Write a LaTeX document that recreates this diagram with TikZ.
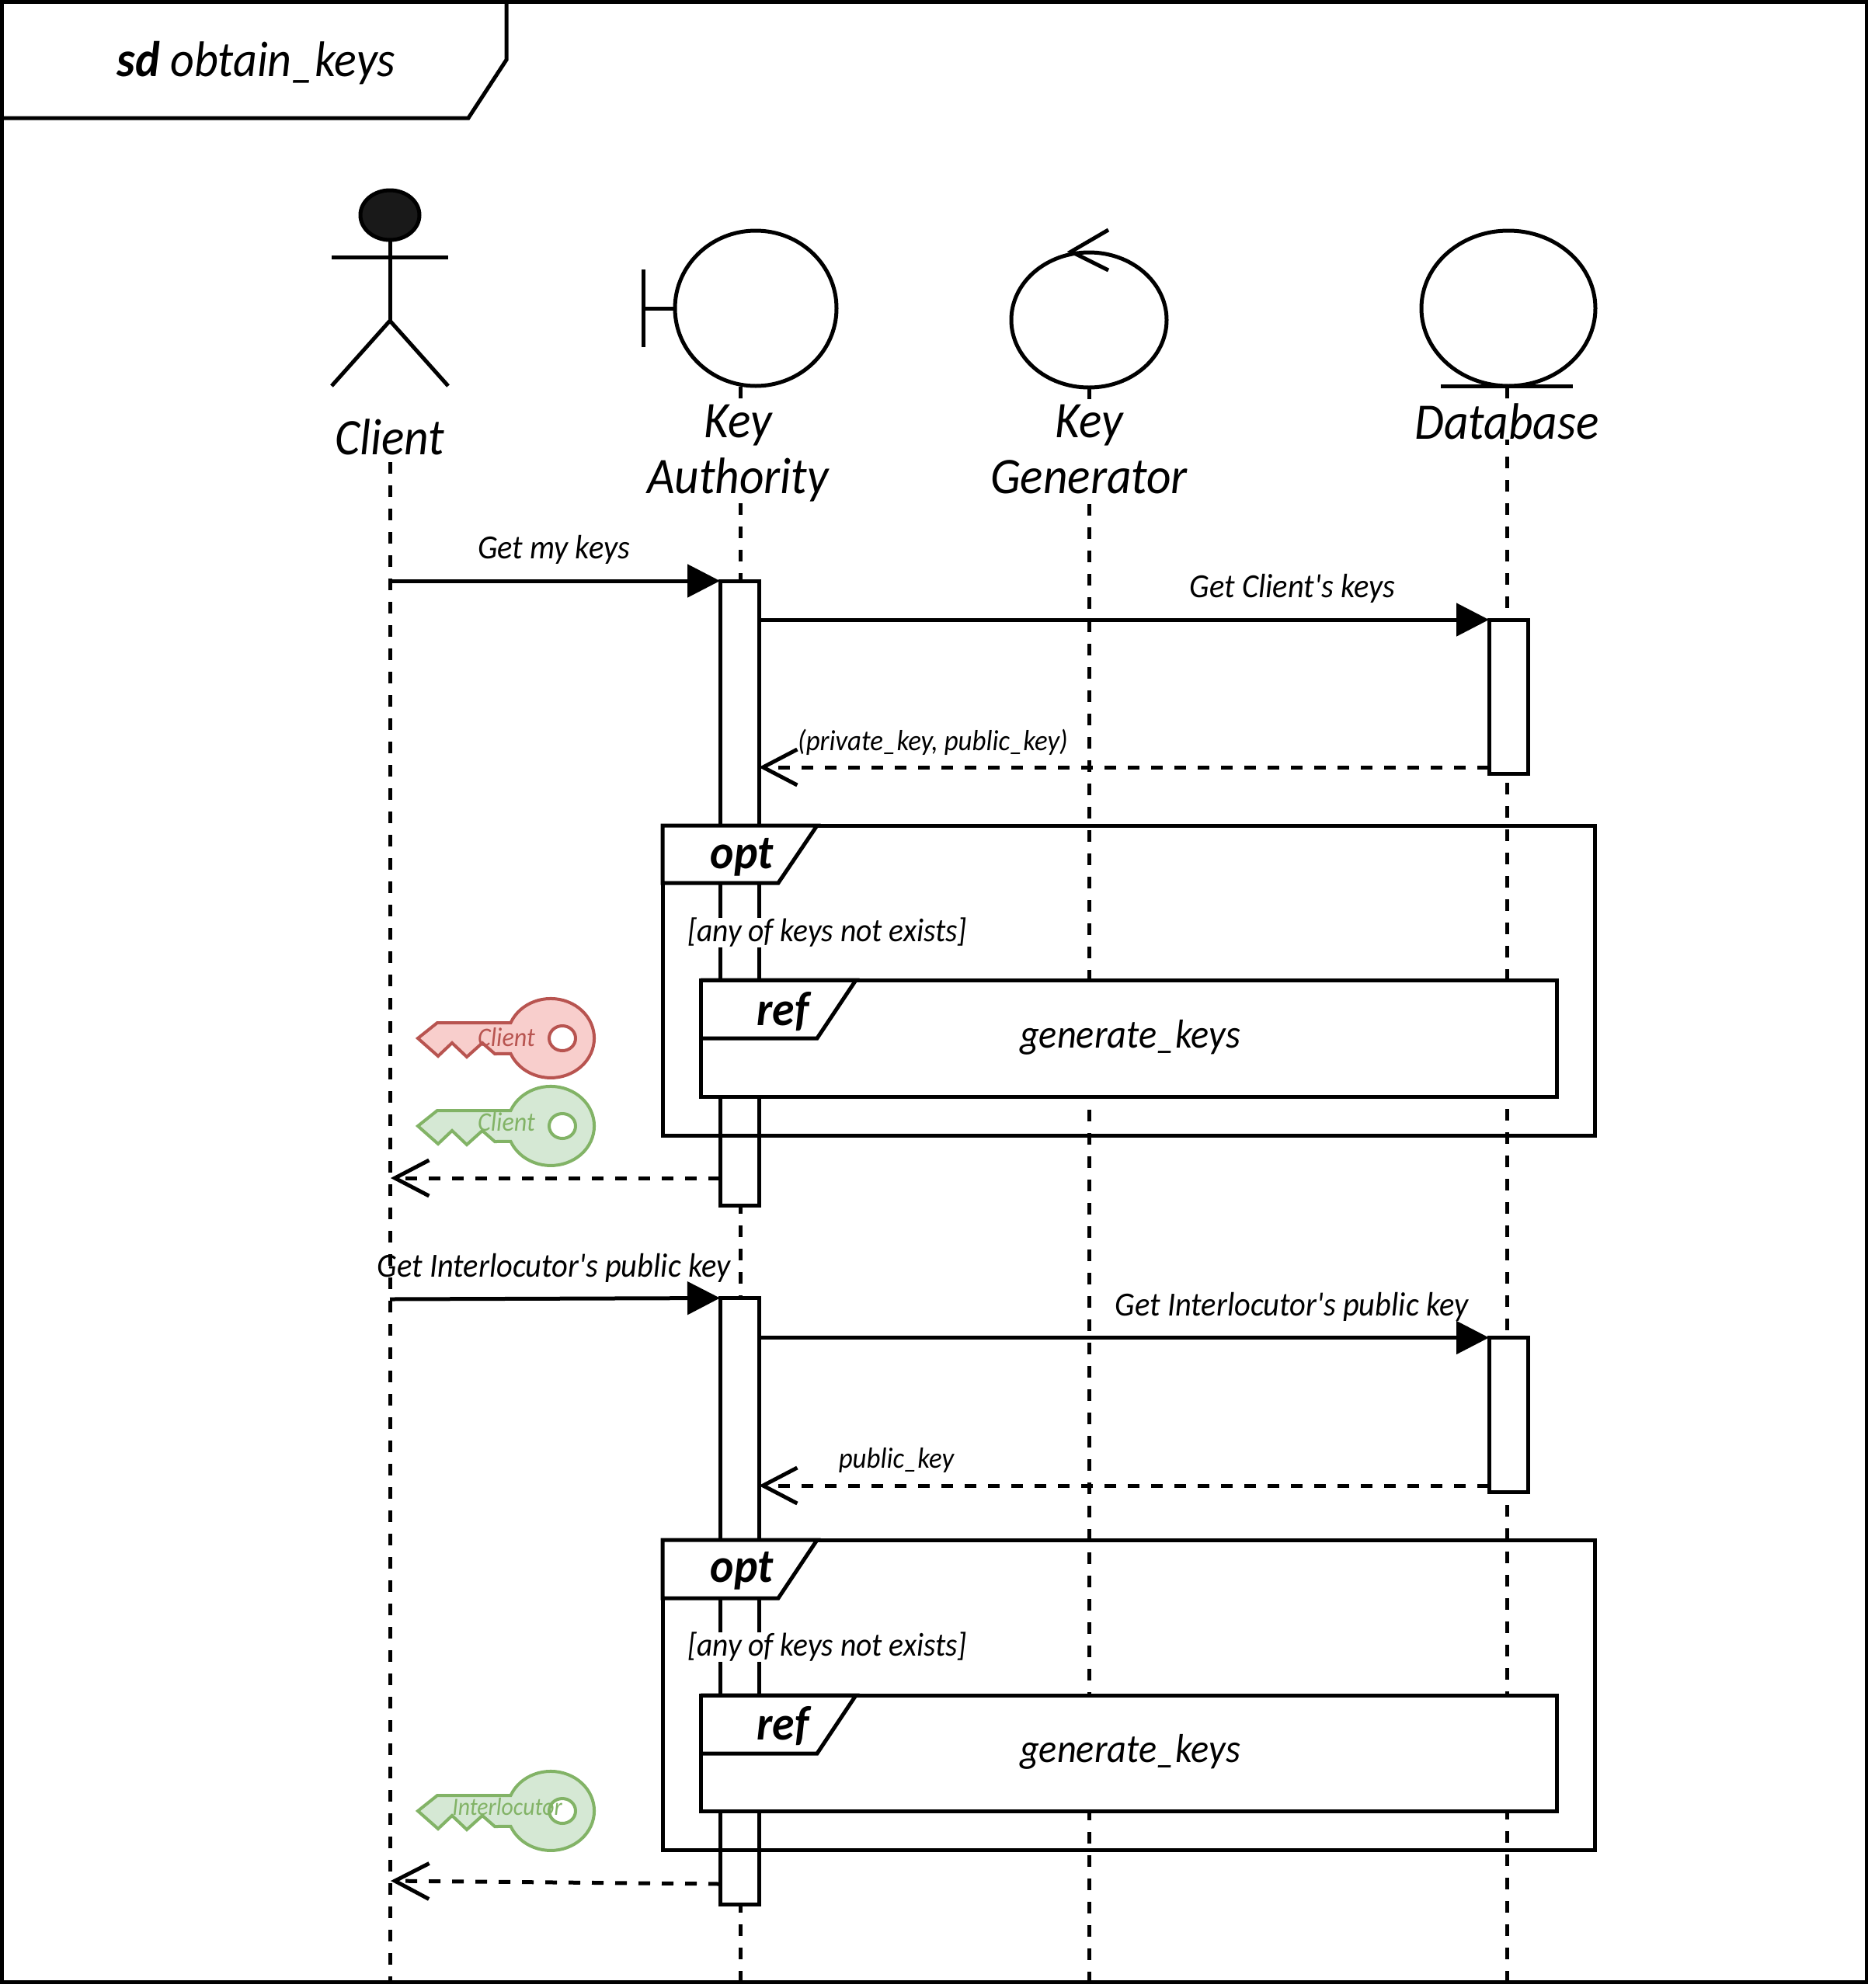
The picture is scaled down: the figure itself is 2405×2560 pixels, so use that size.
\documentclass[tikz,border=0pt]{standalone}
\usepackage{fontspec}
\setmainfont{Carlito}[FakeStretch=0.93,Ligatures=TeXOff]
\usetikzlibrary{arrows.meta,shapes.geometric}
\definecolor{keyred}{HTML}{B85450}
\definecolor{keyredfill}{HTML}{F8CECC}
\definecolor{keygreen}{HTML}{82B366}
\definecolor{keygreenfill}{HTML}{D5E8D4}
\tikzset{
  lifeline/.style={dash pattern=on 15pt off 15pt},
  lifename/.style={fill=white,inner sep=0pt,align=center,font=\fontsize{66}{72}\selectfont\itshape},
  msgtext/.style={inner sep=0pt,font=\fontsize{43.5}{50}\selectfont\itshape},
  replytext/.style={inner sep=0pt,font=\fontsize{37.5}{44}\selectfont\itshape},
  fragtag/.style={inner sep=0pt,font=\fontsize{62}{68}\selectfont\bfseries\itshape},
  condtext/.style={fill=white,inner sep=0pt,font=\fontsize{42.5}{50}\selectfont\itshape},
  reftext/.style={inner sep=0pt,font=\fontsize{52}{60}\selectfont\itshape},
  keytext/.style={inner sep=0pt,font=\fontsize{34.5}{40}\selectfont\itshape},
  activation/.style={draw,fill=white,inner sep=0pt,outer sep=0pt,minimum width=50pt},
  roundicon/.style={draw,ellipse,inner sep=0pt,outer sep=0pt},
  syncmsg/.style={-{Triangle[length=42pt,width=42pt]}},
  replymsg/.style={dash pattern=on 15pt off 15pt,-{Straight Barb[length=44pt,width=46pt]}},
  keyicon/.pic={
    \path[pic actions] (-171,0) -- (-146,-20) -- (-51.5,-20)
      arc[start angle=-157,delta angle=314,x radius=56,y radius=51]
      -- (-72,20) -- (-88,6) -- (-108,24) -- (-127,6) -- (-145,23) -- cycle;
    \path[pic actions,fill=white] (15,0) ellipse (17 and 16);
  },
}
\begin{document}
\begin{tikzpicture}[x=1pt,y=-1pt,line width=5pt]
\useasboundingbox (0,0) rectangle (2405,2560);

% Frame
\draw (2,2) rectangle (2403,2552.5);
\draw (2,2) -- (652,2) -- (652,77) -- (603,152) -- (2,152);
\node[inner sep=0pt,font=\fontsize{64.5}{70}\selectfont\itshape] (title) at (330,81) {\textbf{sd} obtain\_keys};

% Icons
\node[roundicon,minimum width=208pt,minimum height=200pt] (authicon) at (973,397) {};
\node[roundicon,minimum width=200pt,minimum height=174pt] (genicon) at (1402,412) {};
\node[roundicon,minimum width=224pt,minimum height=200pt] (dbicon) at (1942,397) {};
\node[roundicon,fill=black!90,minimum width=76pt,minimum height=64pt] (head) at (502,277) {};

% Client actor
\coordinate (armleft) at (427,331);
\coordinate (armright) at (577,331);
\coordinate (hip) at (502,413);
\coordinate (footleft) at (427,497);
\coordinate (footright) at (577,497);
\draw (head) -- (hip);
\draw (armleft) -- (armright);
\draw (footleft) -- (hip) -- (footright);

% Boundary bar, control arrow, entity bar
\coordinate (bartop) at (828,347);
\coordinate (barbottom) at (828,447);
\coordinate (barmid) at (828,397);
\draw (bartop) -- (barbottom);
\draw (barmid) -- (authicon.west);
\coordinate (chevtop) at (1427,296);
\coordinate (chevtip) at (1379,324);
\coordinate (chevbottom) at (1427,348);
\draw (chevtop) -- (chevtip) -- (chevbottom);
\coordinate (dbbarleft) at (1855,497);
\coordinate (dbbarright) at (2025,497);
\draw (dbbarleft) -- (dbbarright);

% Lifelines
\coordinate (clienttop) at (502,595);
\coordinate (authtop) at (953,498);
\coordinate (gentop) at (1402,499);
\coordinate (dbtop) at (1940,498);
\coordinate (clientend) at (502,2552);
\coordinate (authend) at (953,2552);
\coordinate (genend) at (1402,2552);
\coordinate (dbend) at (1940,2552);
\draw[lifeline] (clienttop) -- (clientend);
\draw[lifeline] (authtop) -- (authend);
\draw[lifeline] (gentop) -- (genend);
\draw[lifeline] (dbtop) -- (dbend);

% Names
\node[lifename] (client) at (502,563) {Client};
\node[lifename] (auth) at (950,584) {Key\\Authority};
\node[lifename] (gen) at (1402,579) {Key\\Generator};
\node[lifename] (db) at (1940,543) {Database};

% Activations
\node[activation,minimum height=804pt] (act1) at (952,1150) {};
\node[activation,minimum height=198pt] (dbact1) at (1942,897) {};
\node[activation,minimum height=781pt] (act2) at (952,2062) {};
\node[activation,minimum height=199pt] (dbact2) at (1942,1822) {};

% Messages, first part
\coordinate (getkeys) at (502,748);
\draw[syncmsg] (getkeys) -- (act1.north west);
\node[msgtext] (getkeystext) at (713,708) {Get my keys};
\draw[syncmsg] (act1.east |- dbact1.north west) -- (dbact1.north west);
\node[msgtext] (clientkeystext) at (1664,758) {Get Client's keys};
\coordinate (keysreply) at (1917,988);
\draw[replymsg] (keysreply) -- (act1.east |- keysreply);
\node[replytext] (keysreplytext) at (1201,956) {(private\_key, public\_key)};

% Opt and ref, first part
\draw (853,1063) rectangle (2053,1462);
\draw[fill=white] (853,1063) -- (1052,1063) -- (1002,1137) -- (853,1137) -- cycle;
\node[fragtag] (opt1) at (955,1104) {opt};
\node[condtext] (cond1) at (1065,1201) {[any of keys not exists]};
\draw[fill=white] (902,1262) rectangle (2004,1412);
\draw (902,1262) -- (1102,1262) -- (1052,1337) -- (902,1337);
\node[fragtag] (ref1) at (1008,1303) {ref};
\node[reftext] (gen1) at (1455,1336) {generate\_keys};

% Keys
\pic[draw=keyred,fill=keyredfill,line width=4pt] at (709,1337) {keyicon};
\node[keytext,text=keyred] (clientpriv) at (652,1336) {Client};
\pic[draw=keygreen,fill=keygreenfill,line width=4pt] at (709,1450) {keyicon};
\node[keytext,text=keygreen] (clientpub) at (652,1445) {Client};
\coordinate (backclient1) at (503,1517);
\draw[replymsg] (act1.west |- backclient1) -- (backclient1);

% Messages, second part
\coordinate (getpub) at (502,1673);
\draw[syncmsg] (getpub) -- (act2.north west);
\node[msgtext] (getpubtext) at (713,1633) {Get Interlocutor's public key};
\draw[syncmsg] (act2.east |- dbact2.north west) -- (dbact2.north west);
\node[msgtext] (dbpubtext) at (1663,1683) {Get Interlocutor's public key};
\coordinate (pubreply) at (1917,1913);
\draw[replymsg] (pubreply) -- (act2.east |- pubreply);
\node[replytext] (pubreplytext) at (1154,1880) {public\_key};

% Opt and ref, second part
\draw (853,1983) rectangle (2053,2382);
\draw[fill=white] (853,1983) -- (1052,1983) -- (1002,2058) -- (853,2058) -- cycle;
\node[fragtag] (opt2) at (955,2023) {opt};
\node[condtext] (cond2) at (1065,2121) {[any of keys not exists]};
\draw[fill=white] (902,2183) rectangle (2004,2332);
\draw (902,2183) -- (1102,2183) -- (1052,2258) -- (902,2258);
\node[fragtag] (ref2) at (1008,2223) {ref};
\node[reftext] (gen2) at (1455,2256) {generate\_keys};

% Last key
\pic[draw=keygreen,fill=keygreenfill,line width=4pt] at (709,2332) {keyicon};
\node[keytext,text=keygreen,font=\fontsize{32}{40}\selectfont\itshape] (interpub) at (653,2326) {Interlocutor};
\coordinate (backclient2a) at (927,2426);
\coordinate (backclient2b) at (503,2422);
\draw[replymsg] (backclient2a) -- (backclient2b);

\end{tikzpicture}
\end{document}
